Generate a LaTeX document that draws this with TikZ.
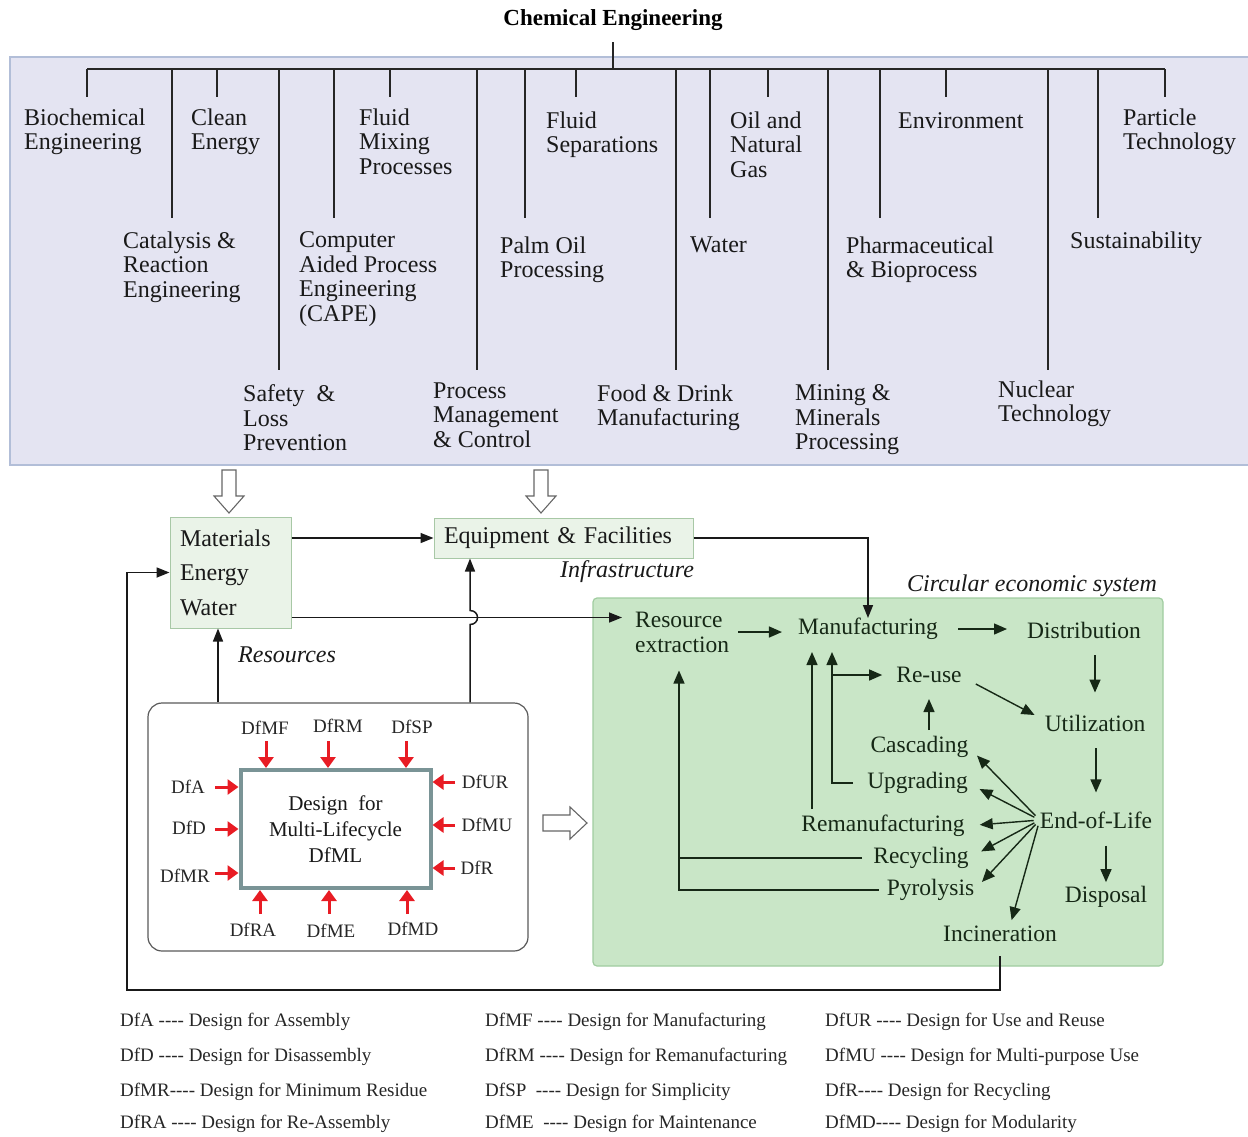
\documentclass[tikz,border=0pt]{standalone}
\usepackage{fontspec}
\setmainfont{Liberation Serif}
\usetikzlibrary{arrows.meta,calc}
\definecolor{lav}{RGB}{228,228,242}
\definecolor{lavb}{RGB}{178,190,216}
\definecolor{mfill}{RGB}{234,243,232}
\definecolor{mbord}{RGB}{168,200,166}
\definecolor{gfill}{RGB}{201,230,199}
\definecolor{gbord}{RGB}{160,204,160}
\definecolor{gtxt}{RGB}{22,40,22}
\definecolor{rarrc}{RGB}{232,28,36}
\definecolor{dfb}{RGB}{122,148,150}
\newcommand{\qd}{-\kern0pt-\kern0pt-\kern0pt-}
\begin{document}
\begin{tikzpicture}[x=1pt,y=-1pt,
 top/.style={inner sep=0pt, anchor=north west, align=left, font=\fontsize{24}{24.5}\selectfont, text=black!90},
 br/.style={line width=2pt, black!85},
 ce/.style={inner sep=0pt, font=\fontsize{23.5}{25}\selectfont, text=gtxt},
 arr/.style={line width=1.5pt, black!90, -{Triangle[length=13pt,width=10pt]}},
 garr/.style={line width=1.4pt, draw=gtxt, -{Triangle[length=13pt,width=11pt]}},
 rarr/.style={line width=3pt, draw=rarrc, -{Triangle[length=11pt,width=15pt]}},
 dl/.style={inner sep=0pt, font=\fontsize{19}{20}\selectfont, text=black!85},
 leg/.style={inner sep=0pt, anchor=west, font=\fontsize{19}{20}\selectfont, text=black!85},
 itl/.style={inner sep=0pt, anchor=west, font=\fontsize{24}{24}\selectfont\itshape, text=black!90},
 hollow/.style={draw=black!60, fill=white, line width=1.1pt, line join=miter}
]
\useasboundingbox (0,0) rectangle (1248,1136);
% ---------- top band ----------
\fill[lav] (10,57) rectangle (1250,465);
\draw[lavb, line width=1.5pt] (1250,57) -- (10,57) -- (10,465) -- (1250,465);
\node[inner sep=0pt, font=\fontsize{23}{24}\selectfont\bfseries] (title) at (613,20) {Chemical Engineering};
\coordinate (busc) at (613,69);
\draw[br] (busc) -- ++(0,-27);
\draw[br] (87,69) -- (1165,69);
% branches
\foreach \bx/\by in {87/97,172/218,217/97,279/370,334/218,390/97,477/370,525/218,576/97,676/370,710/218,768/97,828/370,880/218,946/97,1048/370,1098/218,1165/97}
  \draw[br] (\bx,69) -- (\bx,\by);
\node[top] (bio) at (24,108.5) {Biochemical\\Engineering};
\node[top] (cat) at (123,231.5) {Catalysis \&\\Reaction\\Engineering};
\node[top] (clean) at (191,108.5) {Clean\\Energy};
\node[top] (safe) at (243,384.5) {Safety \ \&\\Loss\\Prevention};
\node[top] (cape) at (299,231.5) {Computer\\Aided Process\\Engineering\\(CAPE)};
\node[top] (mix) at (359,108.5) {Fluid\\Mixing\\Processes};
\node[top] (pmc) at (433,382.5) {Process\\Management\\\& Control};
\node[top] (palm) at (500,236.5) {Palm Oil\\Processing};
\node[top] (sep) at (546,111.5) {Fluid\\Separations};
\node[top] (food) at (597,384.5) {Food \& Drink\\Manufacturing};
\node[top] (water) at (690,236.5) {Water};
\node[top] (oil) at (730,111.5) {Oil and\\Natural\\Gas};
\node[top] (mine) at (795,384.5) {Mining \&\\Minerals\\Processing};
\node[top] (pharma) at (846,236.5) {Pharmaceutical\\\& Bioprocess};
\node[top] (env) at (898,112.5) {Environment};
\node[top] (nuc) at (998,380.5) {Nuclear\\Technology};
\node[top] (sus) at (1070,231.5) {Sustainability};
\node[top] (part) at (1123,108.5) {Particle\\Technology};
% ---------- hollow arrows ----------
\draw[hollow] (222,470) -- (236,470) -- (236,496) -- (244,496) -- (229,513) -- (214,496) -- (222,496) -- cycle;
\draw[hollow] (534,470) -- (548,470) -- (548,496) -- (556,496) -- (541,513) -- (526,496) -- (534,496) -- cycle;
\draw[hollow] (543,815) -- (570,815) -- (570,807) -- (587,823) -- (570,839) -- (570,831) -- (543,831) -- cycle;
% ---------- middle boxes ----------
\node[draw=mbord, fill=mfill, line width=1pt, minimum width=121pt, minimum height=111pt, text width=101pt, inner xsep=10pt, inner ysep=0pt, align=left, font=\fontsize{24}{34.5}\selectfont, text=black!90] (mat) at (230.5,572.5) {Materials\\Energy\\Water};
\node[draw=mbord, fill=mfill, line width=1pt, minimum width=259pt, minimum height=40pt, text width=239pt, inner xsep=10pt, inner ysep=0pt, align=left, font=\fontsize{24}{24}\selectfont, text=black!90] (eq) at (563.5,538) {Equipment \& Facilities};
\node[itl] (infra) at (560,572) {Infrastructure};
\node[itl] (resl) at (238,655) {Resources};
\node[itl] (circ) at (907,586) {Circular economic system};
% circular economic system box
\node[draw=gbord, fill=gfill, line width=1.2pt, rounded corners=4pt, minimum width=570pt, minimum height=368pt] (ces) at (878,782) {};
% DfML box
\node[draw=black!65, rounded corners=14pt, line width=1.2pt, minimum width=380pt, minimum height=248pt] (dfo) at (338,827) {};
\node[draw=dfb, line width=4pt, fill=white, minimum width=190pt, minimum height=118pt, align=center, font=\fontsize{21}{26}\selectfont, inner sep=0pt, text=black!90] (dfi) at (335.5,829) {Design \ for\\Multi-Lifecycle\\DfML};
% DfML labels
\node[dl] (lMF) at (265,728) {DfMF};
\node[dl] (lRM) at (338,726) {DfRM};
\node[dl] (lSP) at (412,727) {DfSP};
\node[dl] (lA) at (188,787) {DfA};
\node[dl] (lD) at (189,828) {DfD};
\node[dl] (lMR) at (185,876) {DfMR};
\node[dl] (lUR) at (485,782) {DfUR};
\node[dl] (lMU) at (487,825) {DfMU};
\node[dl] (lR) at (477,868) {DfR};
\node[dl] (lRA) at (253,930) {DfRA};
\node[dl] (lME) at (331,931) {DfME};
\node[dl] (lMD) at (413,929) {DfMD};
\coordinate (t1) at (266,741); \coordinate (t2) at (328,741); \coordinate (t3) at (406,741);
\coordinate (b1) at (260,914); \coordinate (b2) at (329,914); \coordinate (b3) at (407,914);
\coordinate (l1) at (215,787); \coordinate (l2) at (215,829); \coordinate (l3) at (215,873);
\coordinate (r1) at (455,782); \coordinate (r2) at (455,825); \coordinate (r3) at (455,868);
\foreach \c in {t1,t2,t3} \draw[rarr] (\c) -- (\c |- dfi.north);
\foreach \c in {b1,b2,b3} \draw[rarr] (\c) -- (\c |- dfi.south);
\foreach \c in {l1,l2,l3} \draw[rarr] (\c) -- (\c -| dfi.west);
\foreach \c in {r1,r2,r3} \draw[rarr] (\c) -- (\c -| dfi.east);
% ---------- circular economy nodes ----------
\node[ce, align=left, anchor=north west] (res) at (635,611.5) {Resource\\extraction};
\node[ce] (manu) at (868,629) {Manufacturing};
\node[ce] (dist) at (1084,630) {Distribution};
\node[ce] (util) at (1095,723) {Utilization};
\node[ce] (eol) at (1096,820) {End-of-Life};
\node[ce] (disp) at (1106,897) {Disposal};
\node[ce] (reuse) at (929,675) {Re-use};
\node[ce] (casc) at (919.5,747) {Cascading};
\node[ce] (upg) at (917.5,783) {Upgrading};
\node[ce] (reman) at (883,826) {Remanufacturing};
\node[ce] (recyc) at (921,858) {Recycling};
\node[ce] (pyro) at (930.5,890) {Pyrolysis};
\node[ce] (inc) at (1000,934) {Incineration};
% ---------- black connectors ----------
\draw[arr] (mat.east |- eq.west) -- (eq.west);
\draw[arr] (eq.east) -| (manu.north);
\coordinate (m1) at ([yshift=11pt]mat.south east);
\draw[arr, shorten >=13pt] (m1) -- (m1 -| res.west);
\coordinate (hx) at (470,617.5);
\draw[arr] (hx |- dfo.north) -- ([yshift=-7pt]hx) .. controls +(10,0) and +(10,0) .. ([yshift=7pt]hx) -- (hx |- eq.south);
\coordinate (rk2) at (218,0);
\draw[arr] (rk2 |- dfo.north) -- (rk2 |- mat.south);
\coordinate (fb) at (127,990);
\draw[arr, line width=1.8pt, shorten <=14pt] (inc.south) |- (fb) |- (mat.west);
% ---------- green connectors ----------
\draw[garr, shorten <=9pt, shorten >=16pt] (res.east) -- (res.east -| manu.west);
\draw[garr, shorten <=20pt, shorten >=20pt] (manu.east) -- (manu.east -| dist.west);
\draw[garr, shorten <=17pt, shorten >=22pt] (util.north |- dist.south) -- (util.north);
\draw[garr, shorten <=17pt, shorten >=19pt] (eol.north |- util.south) -- (eol.north);
\draw[garr, shorten <=17pt, shorten >=4pt] (disp.north |- eol.south) -- (disp.north);
\draw[garr] ($(reuse.east)+(14,9)$) -- ($(util.west)+(-10,-8)$);
\draw[garr, shorten <=6pt, shorten >=16pt] (reuse.south |- casc.north) -- (reuse.south);
\draw[garr, shorten <=6pt, shorten >=12pt] (eol.west) -- (casc.east);
\draw[garr, shorten <=6pt, shorten >=13pt] (eol.west) -- (upg.east);
\draw[garr, shorten <=6pt, shorten >=15pt] (eol.west) -- (reman.east);
\draw[garr, shorten <=6pt, shorten >=14pt] (eol.west) -- (recyc.east);
\draw[garr, shorten <=6pt, shorten >=11pt] (eol.west) -- (pyro.east);
\draw[garr, shorten <=6pt, shorten >=6pt] (eol.west) -- ([xshift=10pt]inc.north);
\coordinate (uk) at (832,0);
\draw[garr, shorten <=14pt, shorten >=12pt] (upg.west) -| (manu.south -| uk);
\draw[garr, shorten >=14pt] (reuse.west -| uk) -- (reuse.west);
\coordinate (mk) at (812,0);
\draw[garr, shorten <=6pt, shorten >=12pt] (reman.north -| mk) -- (manu.south -| mk);
\coordinate (rk) at (679,0);
\draw[garr, shorten <=8pt, shorten >=18pt] (pyro.west) -| (res.south -| rk);
\draw[line width=1.4pt, draw=gtxt, shorten <=11pt] (recyc.west) -- (recyc.west -| rk);
% ---------- legend ----------
\node[leg] (g1) at (120,1022) {DfA \qd\ Design for Assembly};
\node[leg] (g2) at (120,1057) {DfD \qd\ Design for Disassembly};
\node[leg] (g3) at (120,1092) {DfMR\qd\ Design for Minimum Residue};
\node[leg] (g4) at (120,1124) {DfRA \qd\ Design for Re-Assembly};
\node[leg] (g5) at (485,1022) {DfMF \qd\ Design for Manufacturing};
\node[leg] (g6) at (485,1057) {DfRM \qd\ Design for Remanufacturing};
\node[leg] (g7) at (485,1092) {DfSP \ \qd\ Design for Simplicity};
\node[leg] (g8) at (485,1124) {DfME \ \qd\ Design for Maintenance};
\node[leg] (g9) at (825,1022) {DfUR \qd\ Design for Use and Reuse};
\node[leg] (g10) at (825,1057) {DfMU \qd\ Design for Multi-purpose Use};
\node[leg] (g11) at (825,1092) {DfR\qd\ Design for Recycling};
\node[leg] (g12) at (825,1124) {DfMD\qd\ Design for Modularity};
\end{tikzpicture}
\end{document}
